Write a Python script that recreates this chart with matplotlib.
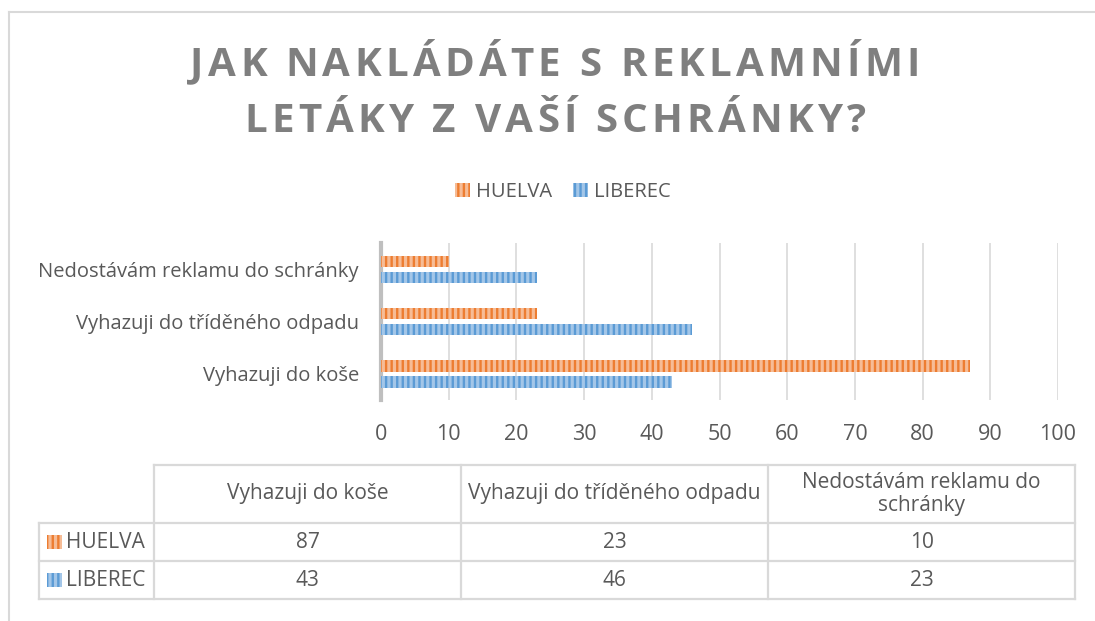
import numpy as np
import matplotlib.pyplot as plt
from matplotlib.patches import Rectangle
from matplotlib.font_manager import FontProperties, findfont
from matplotlib.ft2font import FT2Font

categories = ['Vyhazuji do koše', 'Vyhazuji do tříděného odpadu', 'Nedostávám reklamu do schránky']
table_headers = ['Vyhazuji do koše', 'Vyhazuji do tříděného odpadu', 'Nedostávám reklamu do\nschránky']
series_names = ['HUELVA', 'LIBEREC']
huelva = [87, 23, 10]
liberec = [43, 46, 23]
title_lines = ['JAK NAKLÁDÁTE S REKLAMNÍMI', 'LETÁKY Z VAŠÍ SCHRÁNKY?']

plt.rcParams['font.family'] = ['Open Sans', 'DejaVu Sans']
plt.rcParams['hatch.linewidth'] = 1.7

TEXT = '#595959'
faces = ['#F6BC96', '#A3C6E8']
hatch_cols = ['#ED7D31', '#5B9BD5']
W, H = 1095, 621


def spaced_text(fig, cx, cy, s, size, extra, **kw):
    # draw a string letter by letter with extra tracking (pixels)
    path = findfont(FontProperties(family='Open Sans', weight='bold'))
    font = FT2Font(path)
    font.set_size(size, 100)
    adv = [font.load_char(ord(c)).linearHoriAdvance / 65536 for c in s]
    total = sum(adv) + extra * (len(s) - 1)
    x = cx - total / 2
    for c, a in zip(s, adv):
        fig.text(x / W, 1 - cy / H, c, ha='left', va='center', fontsize=size,
                 fontweight='bold', **kw)
        x += a + extra


def main():
    fig = plt.figure(figsize=(W / 100, H / 100), dpi=100)
    tr = fig.transFigure

    # outer frame (top and left edges visible)
    fig.add_artist(plt.Line2D([9 / W, 1], [1 - 12 / H] * 2, color='#D9D9D9', lw=1.5, transform=tr))
    fig.add_artist(plt.Line2D([9 / W] * 2, [1 - 12 / H, 0], color='#D9D9D9', lw=1.5, transform=tr))

    spaced_text(fig, 555, 65, title_lines[0], 29, 4.2, color='#7F7F7F')
    spaced_text(fig, 555, 122, title_lines[1], 29, 4.2, color='#7F7F7F')

    # chart axes
    x0, x1 = 381, 1058
    top, bot = 243, 400
    ax = fig.add_axes([x0 / W, 1 - bot / H, (x1 - x0) / W, (bot - top) / H])
    y = np.arange(len(categories))
    h = 0.22
    for i, (vals, off) in enumerate([(huelva, 0.15), (liberec, -0.155)]):
        ax.barh(y + off, vals, height=h, color=faces[i], edgecolor=hatch_cols[i],
                hatch='|||', linewidth=0, label=series_names[i], zorder=3)
    ax.set_xlim(0, 100)
    ax.set_ylim(-0.5, 2.5)
    ax.set_xticks(np.arange(0, 101, 10))
    ax.set_yticks(y)
    ax.set_yticklabels(categories)
    ax.grid(axis='x', color='#D9D9D9', linewidth=1.2, zorder=0)
    for s in ['top', 'right', 'bottom']:
        ax.spines[s].set_visible(False)
    ax.spines['left'].set_color('#BFBFBF')
    ax.spines['left'].set_linewidth(3)
    ax.tick_params(length=0, labelsize=15.5, colors=TEXT)
    ax.tick_params(axis='y', labelsize=14.5, pad=16)
    ax.tick_params(axis='x', pad=17)

    fig.legend(loc='center', bbox_to_anchor=(563 / W, 1 - 192 / H), ncol=2, frameon=False,
               fontsize=14.5, labelcolor=TEXT, handlelength=0.75, handleheight=0.75,
               handletextpad=0.3, columnspacing=1.0)

    # data table
    col_x = [39, 154, 461, 768, 1075]
    row_y = [465, 523, 561, 599]
    lc = '#D9D9D9'
    for yy in row_y:
        xs = col_x[1] if yy == row_y[0] else col_x[0]
        fig.add_artist(plt.Line2D([xs / W, col_x[-1] / W], [1 - yy / H] * 2, color=lc, lw=1.6, transform=tr))
    for xx in col_x:
        ys = row_y[1] if xx == col_x[0] else row_y[0]
        fig.add_artist(plt.Line2D([xx / W] * 2, [1 - ys / H, 1 - row_y[-1] / H], color=lc, lw=1.6, transform=tr))
    for j, head in enumerate(table_headers):
        cx = (col_x[j + 1] + col_x[j + 2]) / 2
        fig.text(cx / W, 1 - (row_y[0] + row_y[1]) / 2 / H, head, ha='center', va='center',
                 fontsize=15, color=TEXT, linespacing=1.15)
    for i, vals in enumerate([huelva, liberec]):
        cy = (row_y[i + 1] + row_y[i + 2]) / 2
        fig.add_artist(Rectangle((47 / W, 1 - (cy + 7) / H), 15 / W, 14 / H, transform=tr,
                                 facecolor=faces[i], edgecolor=hatch_cols[i], hatch='|||', linewidth=0))
        fig.text(66 / W, 1 - cy / H, series_names[i], ha='left', va='center', fontsize=15, color=TEXT)
        for j, v in enumerate(vals):
            cx = (col_x[j + 1] + col_x[j + 2]) / 2
            fig.text(cx / W, 1 - cy / H, str(v), ha='center', va='center', fontsize=15, color=TEXT)

    fig.savefig('out.png', dpi=100)


if __name__ == '__main__':
    main()
